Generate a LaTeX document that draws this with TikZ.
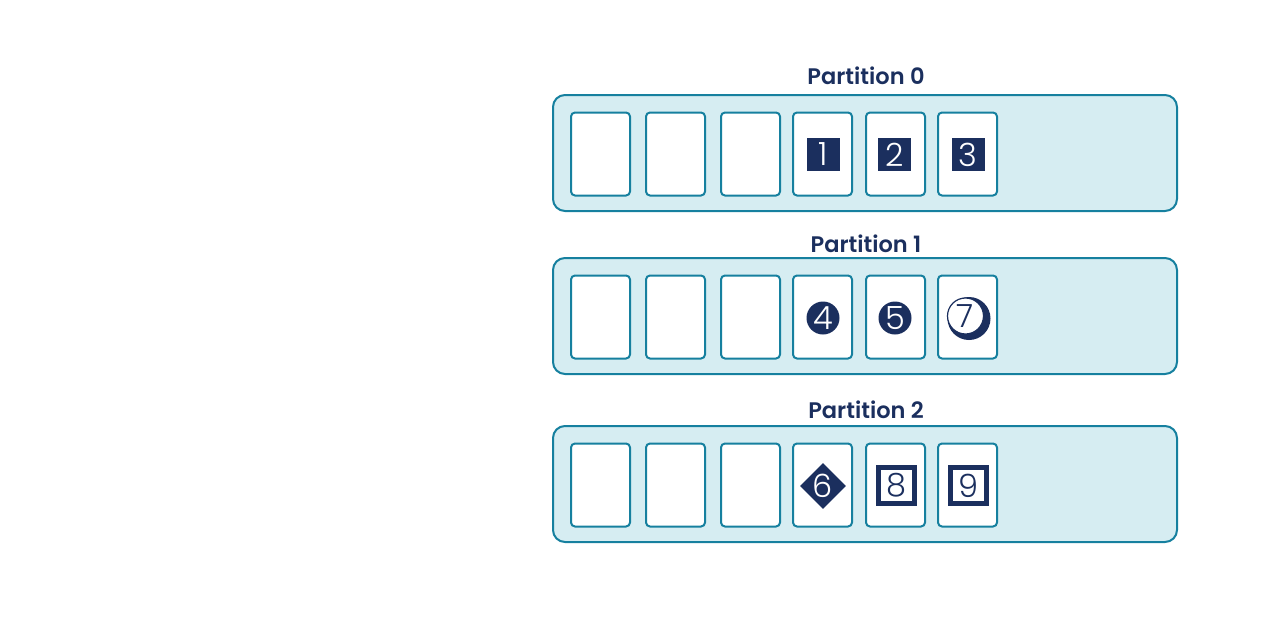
\documentclass[tikz,border=0pt]{standalone}
\usepackage{fontspec}
\setmainfont{Poppins}
\IfFontExistsTF{Poppins Light}{\newfontfamily\numfont{Poppins Light}}{\newfontfamily\numfont{Poppins}}
\IfFontExistsTF{Poppins SemiBold}{\newfontfamily\labfont{Poppins SemiBold}}{\newfontfamily\labfont{Poppins}[UprightFont=*-Bold]}
\usetikzlibrary{shapes.geometric}
\definecolor{navy}{HTML}{1B2F5E}
\definecolor{teal}{HTML}{16809F}
\definecolor{pfill}{HTML}{D6EDF2}
\tikzset{
  part/.style={draw=teal, line width=2pt, fill=pfill, rounded corners=12pt,
    minimum width=624pt, minimum height=116pt, inner sep=0pt},
  cell/.style={draw=teal, line width=2pt, fill=white, rounded corners=4pt,
    minimum width=59pt, minimum height=83pt, inner sep=0pt},
  plabel/.style={font=\labfont\fontsize{22.5}{22.5}\selectfont, text=navy, inner sep=0pt},
  num/.style={font=\numfont\fontsize{32}{32}\selectfont, text=white, inner sep=0pt},
  sq/.style={fill=navy, minimum size=33pt, inner sep=0pt},
  circ/.style={circle, fill=navy, minimum size=33pt, inner sep=0pt},
  dia/.style={diamond, fill=navy, minimum size=46pt, inner sep=0pt},
  frame/.style={draw=navy, line width=5pt, fill=white, minimum size=36pt, inner sep=0pt},
}
\begin{document}
\begin{tikzpicture}[x=1pt,y=-1pt]
\useasboundingbox (0,0) rectangle (1280,640);
% partitions
\foreach \r/\y in {0/153,1/316,2/484}{
  \node[part] (p\r) at (865,\y) {};
  \foreach \c/\x in {1/600.5,2/675.5,3/750.5,4/822.5,5/895.5,6/967.5}{
    \node[cell] (c\r\c) at (\x,\y+1) {};
  }
}
\node[plabel] (l0) at (866,76) {Partition 0};
\node[plabel] (l1) at (866,244) {Partition 1};
\node[plabel] (l2) at (866,410) {Partition 2};
% row 0
\node[sq] (s1) at (823.5,154.5) {};
\node[num] (n1) at (s1) {1};
\node[sq] (s2) at (894.5,154.5) {};
\node[num] (n2) at (s2) {2};
\node[sq] (s3) at (968,154.5) {};
\node[num] (n3) at (s3) {3};
% row 1
\node[circ] (s4) at (823,318) {};
\node[num] (n4) at (s4) {4};
\node[circ] (s5) at (895,318) {};
\node[num] (n5) at (s5) {5};
\node[circle, fill=navy, minimum size=43pt, inner sep=0pt] (s7) at (969,318.5) {};
\node[circle, draw=navy, line width=1.2pt, fill=white, minimum size=36pt, inner sep=0pt] (w7) at (965.5,316) {};
\node[num, text=navy] (n7) at (w7) {7};
% row 2
\node[dia] (s6) at (823,486) {};
\node[num] (n6) at (s6) {6};
\node[frame] (s8) at (896,485.5) {};
\node[num, text=navy] (n8) at (s8) {8};
\node[frame] (s9) at (968.5,485.5) {};
\node[num, text=navy] (n9) at (s9) {9};
\end{tikzpicture}
\end{document}
